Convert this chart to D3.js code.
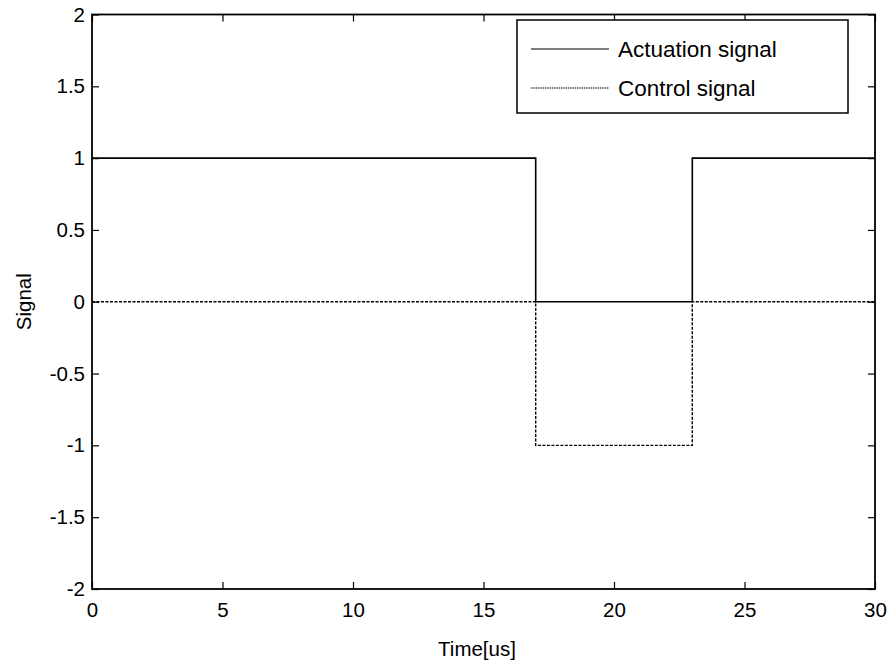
<!DOCTYPE html>
<html>
<head>
<meta charset="utf-8">
<script src="https://cdn.jsdelivr.net/npm/d3@7"></script>
<style>
  html, body { margin: 0; padding: 0; background: #fff; }
  svg { display: block; }
  text { font-family: "Liberation Sans", Arial, Helvetica, sans-serif; fill: #000; }
</style>
</head>
<body>
<svg id="chart" width="891" height="662"></svg>
<script>
// Step breakpoints (microseconds) and the level held from each one onward
const timePoints = [0, 17, 23, 30];
const actuationValues = [1, 0, 1, 1];
const controlValues = [0, -1, 0, 0];

const xTicks = [0, 5, 10, 15, 20, 25, 30];
const yTicks = [-2, -1.5, -1, -0.5, 0, 0.5, 1, 1.5, 2];

const seriesNames = ["Actuation signal", "Control signal"];

const svg = d3.select("#chart");
const W = 891, H = 662;
const plot = { left: 92, right: 875, top: 14.5, bottom: 589 };
const tickFont = 20.5;
const labelFont = 20.5;
const legendFont = 22.5;
const tickLen = 7;

svg.append("rect").attr("width", W).attr("height", H).attr("fill", "#fff");

const x = d3.scaleLinear().domain([0, 30]).range([plot.left, plot.right]);
const y = d3.scaleLinear().domain([-2, 2]).range([plot.bottom, plot.top]);

const fmt = d => String(d);

// Bottom and left axes with inward ticks
const gx = svg.append("g").attr("transform", `translate(0,${plot.bottom})`)
  .call(d3.axisBottom(x).tickValues(xTicks).tickSize(-tickLen).tickPadding(13).tickFormat(fmt));
const gy = svg.append("g").attr("transform", `translate(${plot.left},0)`)
  .call(d3.axisLeft(y).tickValues(yTicks).tickSize(-tickLen).tickPadding(7).tickFormat(fmt));
// Top and right mirror ticks, no labels
const gxt = svg.append("g").attr("transform", `translate(0,${plot.top})`)
  .call(d3.axisTop(x).tickValues(xTicks).tickSize(-tickLen).tickFormat(""));
const gyr = svg.append("g").attr("transform", `translate(${plot.right},0)`)
  .call(d3.axisRight(y).tickValues(yTicks).tickSize(-tickLen).tickFormat(""));

[gx, gy, gxt, gyr].forEach(g => {
  g.select(".domain").remove();
  g.selectAll(".tick line").attr("stroke", "#000").attr("stroke-width", 1.2);
  g.selectAll(".tick text").attr("font-size", tickFont)
    .style("font-family", "'Liberation Sans', Arial, sans-serif").attr("fill", "#000");
});

// Data lines
const line = d3.line().curve(d3.curveStepAfter).x(d => x(d.t)).y(d => y(d.v));
const actData = timePoints.map((t, i) => ({ t, v: actuationValues[i] }));
const ctlData = timePoints.map((t, i) => ({ t, v: controlValues[i] }));

svg.append("path").datum(ctlData).attr("d", line)
  .attr("fill", "none").attr("stroke", "#000").attr("stroke-width", 1.4)
  .attr("stroke-dasharray", "3,1.5");
svg.append("path").datum(actData).attr("d", line)
  .attr("fill", "none").attr("stroke", "#000").attr("stroke-width", 1.6);

// Axes box
svg.append("rect")
  .attr("x", plot.left).attr("y", plot.top)
  .attr("width", plot.right - plot.left).attr("height", plot.bottom - plot.top)
  .attr("fill", "none").attr("stroke", "#000").attr("stroke-width", 1.8);

// Axis titles
svg.append("text").attr("x", 477).attr("y", 656)
  .attr("text-anchor", "middle").attr("font-size", labelFont).text("Time[us]");
svg.append("text").attr("transform", `translate(31,${(plot.top + plot.bottom) / 2}) rotate(-90)`)
  .attr("text-anchor", "middle").attr("font-size", labelFont).text("Signal");

// Legend
const lg = svg.append("g");
lg.append("rect").attr("x", 517).attr("y", 20).attr("width", 331).attr("height", 93)
  .attr("fill", "#fff").attr("stroke", "#000").attr("stroke-width", 1.5);
const rowY = [49, 88];
seriesNames.forEach((name, i) => {
  lg.append("line").attr("x1", 531).attr("x2", 609).attr("y1", rowY[i]).attr("y2", rowY[i])
    .attr("stroke", "#000").attr("stroke-width", 1.1)
    .attr("stroke-dasharray", i === 1 ? "1.5,0.8" : null);
  lg.append("text").attr("x", 618).attr("y", rowY[i]).attr("dy", "0.35em")
    .attr("font-size", legendFont).text(name);
});
</script>
</body>
</html>
